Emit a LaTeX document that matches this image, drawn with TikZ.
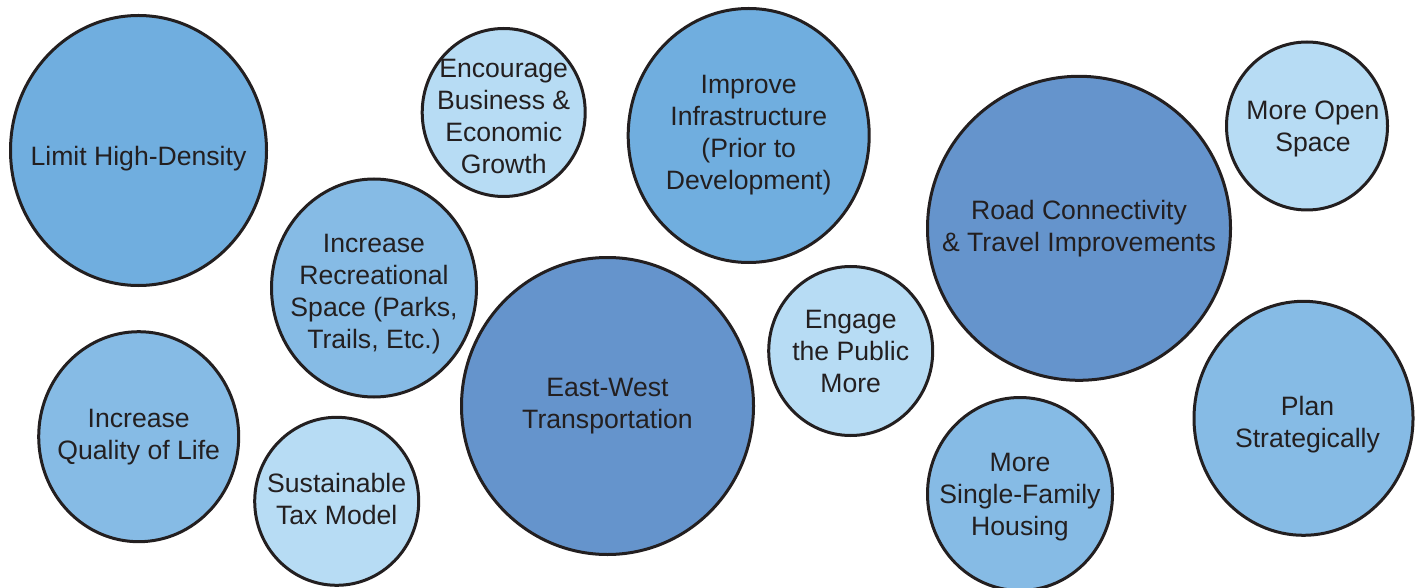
\documentclass[tikz,border=0pt]{standalone}
\usepackage{fontspec}
\setmainfont{Liberation Sans}
\usepackage{tikz}
\usetikzlibrary{shapes.geometric}
\definecolor{darkblue}{HTML}{6594CC}
\definecolor{midblue}{HTML}{70AEDF}
\definecolor{lightblue}{HTML}{86BBE5}
\definecolor{paleblue}{HTML}{B7DCF4}
\definecolor{edge}{HTML}{231F20}
\begin{document}
\begin{tikzpicture}[
    x=0.5pt, y=-0.5pt,
    bubble/.style 2 args={draw=edge, line width=1.5pt, ellipse, inner sep=0pt,
      minimum width=#1, minimum height=#2},
    caption/.style={align=center, text=edge, inner sep=0pt,
      font=\fontsize{13.3}{16}\selectfont}
  ]
    \useasboundingbox (0,0) rectangle (1428,588);
    % top row
    \node[bubble={128pt}{135pt}, fill=midblue, label={[caption, yshift=-4pt]center:Limit High-Density}] (limit) at (138.5,150.5) {};
    \node[bubble={81.5pt}{84pt}, fill=paleblue, label={[caption, yshift=-1.75pt]center:Encourage\\Business \&\\Economic\\Growth}] (business) at (503.7,112.5) {};
    \node[bubble={120.5pt}{127pt}, fill=midblue, label={[caption]center:Improve\\Infrastructure\\(Prior to\\Development)}] (infra) at (748.7,135.5) {};
    \node[bubble={80.5pt}{84pt}, fill=paleblue, label={[caption, xshift=3pt, yshift=-1.5pt]center:More Open\\Space}] (openspace) at (1307,126) {};
    \node[bubble={151.5pt}{152pt}, fill=darkblue, label={[caption]center:Road Connectivity\\\& Travel Improvements}] (road) at (1079,228.3) {};
    % middle and bottom
    \node[bubble={102.5pt}{109pt}, fill=lightblue, label={[caption, yshift=-3.25pt]center:Increase\\Recreational\\Space (Parks,\\Trails, Etc.)}] (recreation) at (374,288) {};
    \node[bubble={146pt}{148.5pt}, fill=darkblue, label={[caption]center:East-West\\Transportation}] (eastwest) at (607.5,406) {};
    \node[bubble={82pt}{84.5pt}, fill=paleblue, label={[caption]center:Engage\\the Public\\More}] (public) at (850.7,351) {};
    \node[bubble={100pt}{105pt}, fill=lightblue, label={[caption]center:Increase\\Quality of Life}] (quality) at (138.7,436.7) {};
    \node[bubble={82pt}{84pt}, fill=paleblue, label={[caption, yshift=1pt]center:Sustainable\\Tax Model}] (taxmodel) at (336.7,501.3) {};
    \node[bubble={92.5pt}{96.5pt}, fill=lightblue, label={[caption, yshift=-1.5pt]center:More\\Single-Family\\Housing}] (housing) at (1020,494) {};
    \node[bubble={109.5pt}{117pt}, fill=lightblue, label={[caption, xshift=2pt, yshift=-3pt]center:Plan\\Strategically}] (plan) at (1303.5,418.3) {};
  \end{tikzpicture}
\end{document}
